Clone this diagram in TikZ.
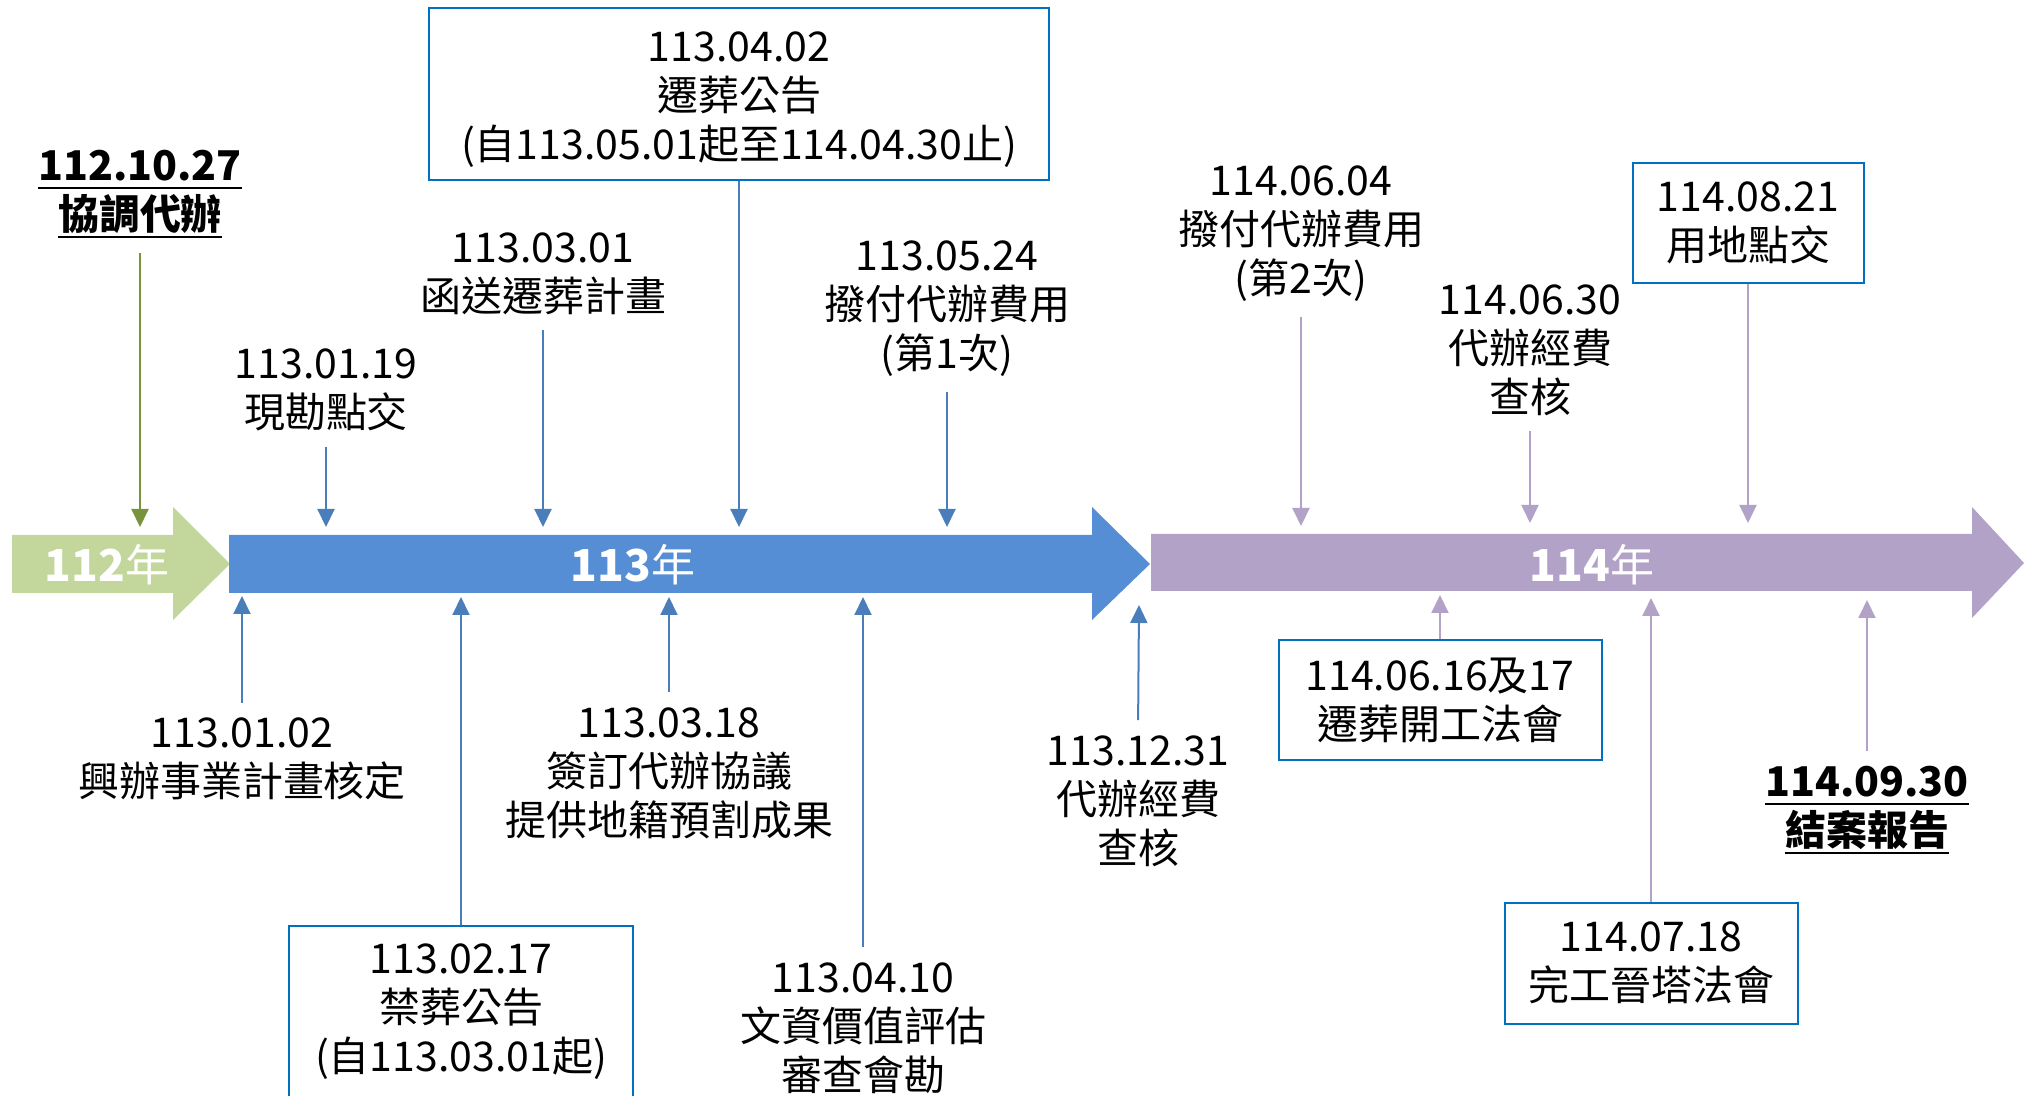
\documentclass[tikz,border=0pt]{standalone}
\usepackage{fontspec}
\setmainfont{Noto Sans CJK TC}
\usetikzlibrary{arrows.meta}
\definecolor{barGreen}{HTML}{C3D69B}
\definecolor{barBlue}{HTML}{558ED5}
\definecolor{barPurple}{HTML}{B3A2C7}
\definecolor{tickGreen}{HTML}{77933C}
\definecolor{tickBlue}{HTML}{4A7EBB}
\definecolor{tickPurple}{HTML}{B3A2C7}
\definecolor{boxBlue}{HTML}{0070C0}
\newcommand{\ulln}[1]{\setbox0\hbox{#1}\rlap{\rule[-4pt]{\wd0}{1pt}}\box0}

\begin{document}
\begin{tikzpicture}[x=0.5pt,y=-0.5pt,
  every node/.style={font=\fontsize{20.5pt}{24.5pt}\selectfont,align=center,inner sep=0pt},
  box/.style={draw=boxBlue,line width=1pt,fill=white},
  year/.style={font=\fontsize{22pt}{26pt}\selectfont,text=white},
  tick/.style={line width=1pt,-{Triangle[length=9pt,width=8.5pt]}},
  fromlbl/.style={tick,shorten <=7.5pt}]
\clip (0,0) rectangle (2026,1096);

% year bars
\fill[barGreen] (12,535) -- (173,535) -- (173,507) -- (230,564) -- (173,620) -- (173,593) -- (12,593) -- cycle;
\fill[barBlue] (229,535) -- (1092,535) -- (1092,507) -- (1150,564) -- (1092,620) -- (1092,593) -- (229,593) -- cycle;
\fill[barPurple] (1151,534) -- (1972,534) -- (1972,507) -- (2024,563) -- (1972,618) -- (1972,591) -- (1151,591) -- cycle;
\node[year] (y112) at (107,565) {\textbf{112}年};
\node[year] (y113) at (633,565) {\textbf{113}年};
\node[year] (y114) at (1592,565) {\textbf{114}年};

% tips on the bars
\coordinate (t1027) at (140,527);
\coordinate (t0119) at (326,527);
\coordinate (t0301) at (543,527);
\coordinate (t0402) at (739,527);
\coordinate (t0524) at (947,527);
\coordinate (t0604) at (1301,526);
\coordinate (t0630) at (1530,523);
\coordinate (t0821) at (1748,523);
\coordinate (t0102) at (242,596);
\coordinate (t0217) at (461,597);
\coordinate (t0318) at (669,597);
\coordinate (t0410) at (863,597);
\coordinate (t1231) at (1139,605);
\coordinate (t0616) at (1440,595);
\coordinate (t0718) at (1651,598);
\coordinate (t0930) at (1867,600);

% events above
\node (l1027) at (140,194) {\bfseries\ulln{112.10.27}\\\bfseries\ulln{協調代辦}};
\node (l0119) at (326,390) {113.01.19\\現勘點交};
\node (l0301) at (543,274) {113.03.01\\函送遷葬計畫};
\node[box,minimum width=310pt,minimum height=86pt] (b0402) at (739,94) {\\[-4pt]113.04.02\\遷葬公告\\(自113.05.01起至114.04.30止)};
\node (l0524) at (947,309) {113.05.24\\撥付代辦費用\\(第1次)};
\node (l0604) at (1301,234) {114.06.04\\撥付代辦費用\\(第2次)};
\node (l0630) at (1530,350) {114.06.30\\代辦經費\\查核};
\node[box,minimum width=115.5pt,minimum height=60pt] (b0821) at (1748,223) {114.08.21\\用地點交};

% events below
\node (l0102) at (242,759) {113.01.02\\興辦事業計畫核定};
\node[box,minimum width=172pt,minimum height=86pt] (b0217) at (461,1012) {113.02.17\\禁葬公告\\(自113.03.01起)};
\node (l0318) at (669,773) {113.03.18\\簽訂代辦協議\\提供地籍預割成果};
\node (l0410) at (863,1028) {113.04.10\\文資價值評估\\審查會勘};
\node (l1231) at (1138,801) {113.12.31\\代辦經費\\查核};
\node[box,minimum width=161.5pt,minimum height=60pt] (b0616) at (1440,700) {114.06.16及17\\遷葬開工法會};
\node[box,minimum width=146.5pt,minimum height=60.5pt] (b0718) at (1651,963) {114.07.18\\完工晉塔法會};
\node (l0930) at (1867,810) {\bfseries\ulln{114.09.30}\\\bfseries\ulln{結案報告}};

\draw[fromlbl,tickGreen] (l1027.south) -- (t1027);
\draw[fromlbl,tickBlue] (l0119.south) -- (t0119);
\draw[fromlbl,tickBlue] (l0301.south) -- (t0301);
\draw[tick,tickBlue] (b0402.south) -- (t0402);
\draw[fromlbl,tickBlue] (l0524.south) -- (t0524);
\draw[fromlbl,tickPurple] (l0604.south) -- (t0604);
\draw[fromlbl,tickPurple] (l0630.south) -- (t0630);
\draw[tick,tickPurple] (b0821.south) -- (t0821);
\draw[fromlbl,tickBlue] (l0102.north) -- (t0102);
\draw[tick,tickBlue] (b0217.north) -- (t0217);
\draw[fromlbl,tickBlue] (l0318.north) -- (t0318);
\draw[fromlbl,tickBlue] (l0410.north) -- (t0410);
\draw[fromlbl,tickBlue] (l1231.north) -- (t1231);
\draw[tick,tickPurple] (b0616.north) -- (t0616);
\draw[tick,tickPurple] (b0718.north) -- (t0718);
\draw[fromlbl,tickPurple] (l0930.north) -- (t0930);
\end{tikzpicture}
\end{document}
